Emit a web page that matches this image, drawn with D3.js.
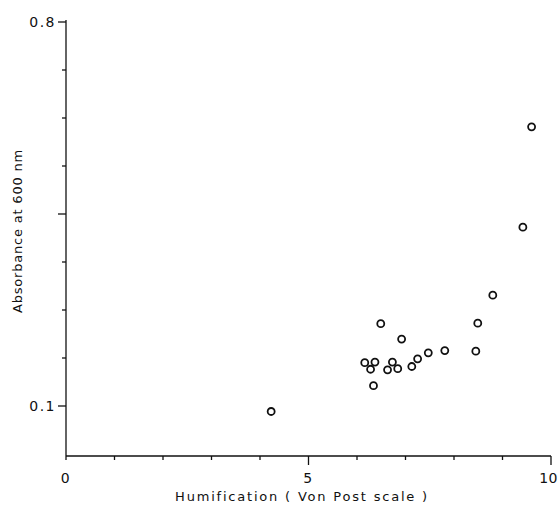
<!DOCTYPE html>
<html>
<head>
<meta charset="utf-8">
<script src="https://cdn.jsdelivr.net/npm/d3@7/dist/d3.min.js"></script>
<style>
  html, body { margin: 0; padding: 0; background: #fff; }
  svg { display: block; }
  text { font-family: "DejaVu Sans", Verdana, sans-serif; fill: #111; }
</style>
</head>
<body>
<script>
// Humification (Von Post scale) against absorbance at 600 nm
const humification = [4.23, 6.16, 6.28, 6.37, 6.34, 6.49, 6.63, 6.73, 6.84, 6.92,
                      7.13, 7.25, 7.47, 7.81, 8.45, 8.49, 8.80, 9.42, 9.60];
const absorbance   = [0.090, 0.179, 0.167, 0.180, 0.137, 0.250, 0.166, 0.180, 0.168, 0.222,
                      0.172, 0.186, 0.197, 0.201, 0.200, 0.251, 0.302, 0.426, 0.609];
const xTicks = [0, 1, 2, 3, 4, 5, 6, 7, 8, 9, 10];
const xLabels = [0, 5, 10];
const yTicks = d3.range(9).map(i => 0.1 + i * 0.0875);
const yLabels = [0.1, 0.8];
const yMajor = [0.1, 0.45, 0.8];

const W = 559, H = 512;
const baseY = 456;

const svg = d3.select("body").append("svg").attr("width", W).attr("height", H);

const x = d3.scaleLinear().domain([0, 10]).range([66, 551]);
const y = d3.scaleLinear().domain([0.1, 0.8]).range([406, 22]);

const ink = "#111";

// x axis
const gx = svg.append("g").attr("transform", `translate(0,${baseY})`);
gx.append("line").attr("x1", x(0)).attr("x2", x(10)).attr("stroke", ink).attr("stroke-width", 1.3);
gx.selectAll("line.tick").data(xTicks).join("line")
  .attr("class", "tick")
  .attr("x1", d => x(d)).attr("x2", d => x(d))
  .attr("y1", 0).attr("y2", d => (d % 5 === 0 && d > 0) ? 9 : 4)
  .attr("stroke", ink).attr("stroke-width", 1.3);
// the last label sits against the right edge, so it is right-aligned to stay inside
gx.selectAll("text").data(xLabels).join("text")
  .attr("x", d => d === 10 ? W - 1 : x(d)).attr("y", 27)
  .attr("text-anchor", d => d === 10 ? "end" : "middle")
  .attr("font-size", 14)
  .attr("letter-spacing", d => d === 10 ? 0.5 : 1.5)
  .text(d => d);

// y axis
const gy = svg.append("g").attr("transform", `translate(${x(0)},0)`);
gy.append("line").attr("y1", y(0.8) - 2).attr("y2", baseY).attr("stroke", ink).attr("stroke-width", 1.3);
gy.selectAll("line.tick").data(yTicks).join("line")
  .attr("class", "tick")
  .attr("y1", d => y(d)).attr("y2", d => y(d))
  .attr("x1", d => yMajor.some(m => Math.abs(m - d) < 1e-6) ? -8 : -4).attr("x2", 0)
  .attr("stroke", ink).attr("stroke-width", 1.3);
gy.selectAll("text").data(yLabels).join("text")
  .attr("x", -10).attr("y", d => y(d)).attr("dy", "0.35em")
  .attr("text-anchor", "end")
  .attr("font-size", 14)
  .attr("letter-spacing", 1.5)
  .text(d => d.toFixed(1));

// axis titles
svg.append("text")
  .attr("x", 302).attr("y", 501)
  .attr("text-anchor", "middle")
  .attr("font-size", 13)
  .attr("letter-spacing", 1.8)
  .text("Humification ( Von Post scale )");
svg.append("text")
  .attr("transform", "translate(22,231) rotate(-90)")
  .attr("text-anchor", "middle")
  .attr("font-size", 13)
  .attr("letter-spacing", 0.8)
  .text("Absorbance at 600 nm");

// data points
svg.append("g").selectAll("circle").data(humification).join("circle")
  .attr("cx", d => x(d))
  .attr("cy", (d, i) => y(absorbance[i]))
  .attr("r", 3.5)
  .attr("fill", "none")
  .attr("stroke", ink)
  .attr("stroke-width", 1.8);
</script>
</body>
</html>
